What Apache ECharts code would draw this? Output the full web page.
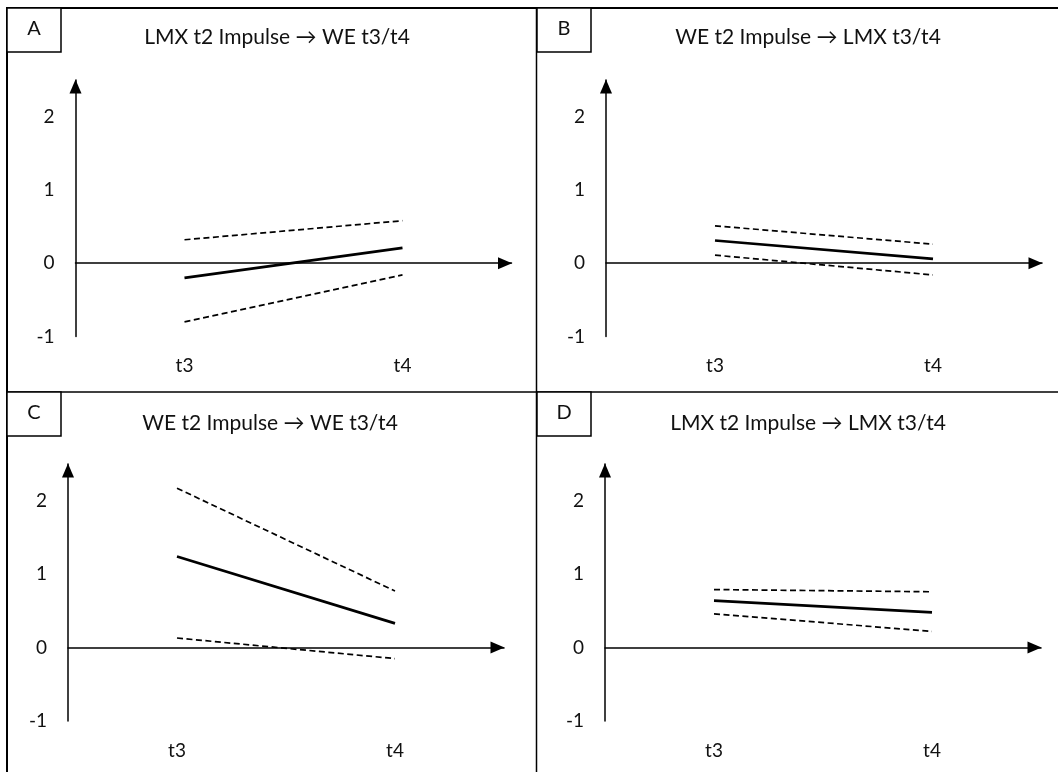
<!DOCTYPE html>
<html style="height: 100%">
<head>
    <meta charset="utf-8">
    <style>
        html, body {
            height: 100%;
            margin: 0;
            padding: 0;
            overflow: hidden;
            background: #fff;
        }
        #container {
            width: 1058px;
            height: 772px;
        }
    </style>
</head>
<body>
    <div id="container"></div>

    <script src="https://cdn.jsdelivr.net/npm/echarts@6/dist/echarts.min.js"></script>
    <script>
        // time points on the x axis
        var categories = ['t3', 't4'];
        var panelLetters = ['A', 'B', 'C', 'D'];
        var panelTitles = [
            'LMX t2 Impulse \u2192 WE t3/t4',
            'WE t2 Impulse \u2192 LMX t3/t4',
            'WE t2 Impulse \u2192 WE t3/t4',
            'LMX t2 Impulse \u2192 LMX t3/t4'
        ];

        // estimate + upper / lower bounds, per panel
        var upperA = [0.32, 0.58];
        var estA   = [-0.20, 0.21];
        var lowerA = [-0.80, -0.16];

        var upperB = [0.51, 0.26];
        var estB   = [0.31, 0.06];
        var lowerB = [0.11, -0.16];

        var upperC = [2.17, 0.77];
        var estC   = [1.24, 0.33];
        var lowerC = [0.13, -0.15];

        var upperD = [0.79, 0.76];
        var estD   = [0.64, 0.48];
        var lowerD = [0.46, 0.22];

        var yMin = -1, yMax = 2.5;

        var panels = [
            {upper: upperA, est: estA, lower: lowerA},
            {upper: upperB, est: estB, lower: lowerB},
            {upper: upperC, est: estC, lower: lowerC},
            {upper: upperD, est: estD, lower: lowerD}
        ];

        var font = 'Lato, "Open Sans", sans-serif';

        var grids = [
            {left: 75.5, top: 80, width: 436, height: 256.5},
            {left: 606, top: 80, width: 436, height: 256.5},
            {left: 68, top: 464, width: 436, height: 257},
            {left: 605, top: 464, width: 436, height: 257}
        ];
        // panel header positions (frame decorations)
        var boxes = [
            {x: 7, y: 8, tx: 277, ty: 37},
            {x: 537, y: 8, tx: 808, ty: 37},
            {x: 7, y: 392, tx: 270, ty: 423},
            {x: 537, y: 392, tx: 808, ty: 423}
        ];

        var xAxes = [], yAxes = [], series = [];
        panels.forEach(function (p, i) {
            // axis line through zero with arrow
            xAxes.push({
                type: 'category',
                gridIndex: i,
                data: categories,
                position: 'bottom',
                boundaryGap: true,
                axisLine: {
                    onZero: true,
                    symbol: ['none', 'triangle'],
                    symbolSize: [12, 14],
                    symbolOffset: [0, -6.5],
                    lineStyle: {color: '#000', width: 1.5}
                },
                axisTick: {show: false},
                axisLabel: {show: false},
                splitLine: {show: false}
            });
            // labels at the bottom
            xAxes.push({
                type: 'category',
                gridIndex: i,
                data: categories,
                position: 'bottom',
                boundaryGap: true,
                axisLine: {show: false, onZero: false},
                axisTick: {show: false},
                axisLabel: {margin: 20, fontSize: 19, color: '#111', fontFamily: font},
                splitLine: {show: false}
            });
            yAxes.push({
                type: 'value',
                gridIndex: i,
                min: yMin,
                max: yMax,
                interval: 1,
                axisLine: {
                    show: true,
                    symbol: ['none', 'triangle'],
                    symbolSize: [12, 14],
                    symbolOffset: [0, -6.5],
                    lineStyle: {color: '#000', width: 1.5}
                },
                axisTick: {show: false},
                splitLine: {show: false},
                axisLabel: {
                    margin: 21, fontSize: 19, color: '#111', fontFamily: font,
                    showMaxLabel: false
                }
            });
            series.push({
                type: 'line', xAxisIndex: i * 2, yAxisIndex: i,
                data: p.upper, symbol: 'none', silent: true,
                lineStyle: {color: '#000', width: 1.7, type: [6, 3.5]}
            });
            series.push({
                type: 'line', xAxisIndex: i * 2, yAxisIndex: i,
                data: p.est, symbol: 'none', silent: true,
                lineStyle: {color: '#000', width: 2.7}
            });
            series.push({
                type: 'line', xAxisIndex: i * 2, yAxisIndex: i,
                data: p.lower, symbol: 'none', silent: true,
                lineStyle: {color: '#000', width: 1.7, type: [6, 3.5]}
            });
        });

        var graphics = [
            {type: 'line', shape: {x1: 6, y1: 8, x2: 1058, y2: 8}, style: {stroke: '#000', lineWidth: 2}},
            {type: 'line', shape: {x1: 7, y1: 7, x2: 7, y2: 772}, style: {stroke: '#000', lineWidth: 2}},
            {type: 'line', shape: {x1: 536.5, y1: 8, x2: 536.5, y2: 772}, style: {stroke: '#000', lineWidth: 1.5}},
            {type: 'line', shape: {x1: 7, y1: 392, x2: 1058, y2: 392}, style: {stroke: '#000', lineWidth: 1.5}}
        ];
        boxes.forEach(function (b, i) {
            graphics.push({
                type: 'rect',
                shape: {x: b.x, y: b.y, width: 54, height: 44},
                style: {fill: '#fff', stroke: '#000', lineWidth: 1.5}
            });
            graphics.push({
                type: 'text',
                style: {
                    text: panelLetters[i], x: b.x + 27, y: b.y + 21,
                    align: 'center', verticalAlign: 'middle',
                    font: '20px ' + font, fill: '#111'
                }
            });
            graphics.push({
                type: 'text',
                style: {
                    text: panelTitles[i], x: b.tx, y: b.ty,
                    align: 'center', verticalAlign: 'middle',
                    font: '21px ' + font, fill: '#111'
                }
            });
        });

        var myChart = echarts.init(document.getElementById('container'));
        var option = {
            animation: false,
            backgroundColor: '#fff',
            textStyle: {fontFamily: font},
            grid: grids,
            xAxis: xAxes,
            yAxis: yAxes,
            series: series,
            graphic: graphics
        };
        myChart.setOption(option);
    </script>
</body>
</html>
